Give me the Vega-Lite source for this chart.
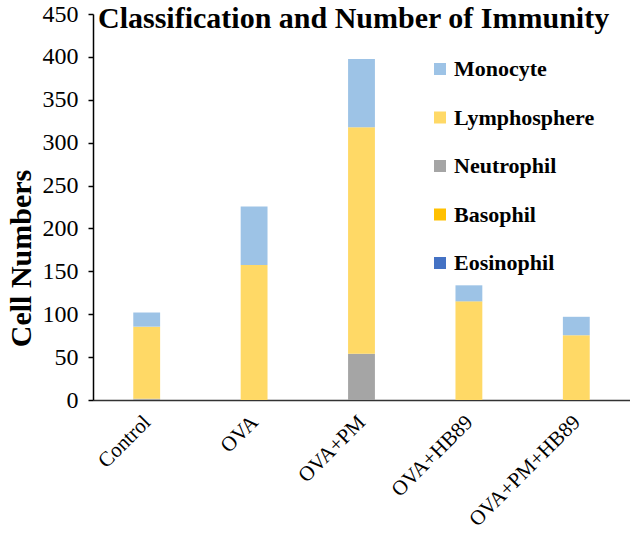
{
  "$schema": "https://vega.github.io/schema/vega-lite/v6.json",
  "width": 537,
  "height": 386,
  "autosize": "none",
  "padding": {"left": 93, "top": 14, "right": 0, "bottom": 134},
  "background": "white",
  "title": {
    "text": "Classification and Number of Immunity",
    "font": "Liberation Serif",
    "fontSize": 30,
    "fontWeight": "bold",
    "color": "black",
    "anchor": "start",
    "frame": "group",
    "dx": 5,
    "baseline": "top",
    "offset": -32
  },
  "data": {
    "values": [
      {"group": "Control", "cell": "Eosinophil", "count": 0},
      {"group": "Control", "cell": "Basophil", "count": 0},
      {"group": "Control", "cell": "Neutrophil", "count": 1.5},
      {"group": "Control", "cell": "Lymphosphere", "count": 84},
      {"group": "Control", "cell": "Monocyte", "count": 16.5},
      {"group": "OVA", "cell": "Eosinophil", "count": 0},
      {"group": "OVA", "cell": "Basophil", "count": 0},
      {"group": "OVA", "cell": "Neutrophil", "count": 0},
      {"group": "OVA", "cell": "Lymphosphere", "count": 157.5},
      {"group": "OVA", "cell": "Monocyte", "count": 68},
      {"group": "OVA+PM", "cell": "Eosinophil", "count": 0},
      {"group": "OVA+PM", "cell": "Basophil", "count": 0},
      {"group": "OVA+PM", "cell": "Neutrophil", "count": 54},
      {"group": "OVA+PM", "cell": "Lymphosphere", "count": 264},
      {"group": "OVA+PM", "cell": "Monocyte", "count": 79.5},
      {"group": "OVA+HB89", "cell": "Eosinophil", "count": 0},
      {"group": "OVA+HB89", "cell": "Basophil", "count": 0},
      {"group": "OVA+HB89", "cell": "Neutrophil", "count": 0},
      {"group": "OVA+HB89", "cell": "Lymphosphere", "count": 115},
      {"group": "OVA+HB89", "cell": "Monocyte", "count": 18.7},
      {"group": "OVA+PM+HB89", "cell": "Eosinophil", "count": 0},
      {"group": "OVA+PM+HB89", "cell": "Basophil", "count": 0},
      {"group": "OVA+PM+HB89", "cell": "Neutrophil", "count": 0},
      {"group": "OVA+PM+HB89", "cell": "Lymphosphere", "count": 75.5},
      {"group": "OVA+PM+HB89", "cell": "Monocyte", "count": 21.5}
    ]
  },
  "transform": [
    {"calculate": "indexof(['Eosinophil','Basophil','Neutrophil','Lymphosphere','Monocyte'], datum.cell)", "as": "stackRank"}
  ],
  "mark": {"type": "bar"},
  "encoding": {
    "x": {
      "field": "group",
      "type": "nominal",
      "sort": null,
      "scale": {"paddingInner": 0.75, "paddingOuter": 0.375},
      "axis": {
        "title": null,
        "labelAngle": -45,
        "labelFont": "Liberation Serif",
        "labelFontSize": 21,
        "labelColor": "black",
        "labelPadding": 11,
        "labelOffset": -7,
        "ticks": false,
        "domainColor": "#333333",
        "domainWidth": 1.5,
        "grid": false
      }
    },
    "y": {
      "field": "count",
      "type": "quantitative",
      "stack": "zero",
      "scale": {"domain": [0, 450], "nice": false},
      "axis": {
        "values": [0, 50, 100, 150, 200, 250, 300, 350, 400, 450],
        "title": "Cell Numbers",
        "titleFont": "Liberation Serif",
        "titleFontSize": 30,
        "titleFontWeight": "bold",
        "titleColor": "black",
        "titleX": -63,
        "titleY": 244,
        "titleAlign": "center",
        "titleBaseline": "alphabetic",
        "titleAngle": -90,
        "labelFont": "Liberation Serif",
        "labelFontSize": 24,
        "labelColor": "black",
        "labelPadding": 10,
        "tickSize": 5,
        "tickColor": "black",
        "tickWidth": 1.5,
        "domainColor": "black",
        "domainWidth": 1.5,
        "grid": false
      }
    },
    "color": {
      "field": "cell",
      "type": "nominal",
      "scale": {
        "domain": ["Monocyte", "Lymphosphere", "Neutrophil", "Basophil", "Eosinophil"],
        "range": ["#9DC3E6", "#FFD966", "#A5A5A5", "#FFC000", "#4472C4"]
      },
      "legend": {
        "title": null,
        "orient": "none",
        "legendX": 336,
        "legendY": 44,
        "padding": 0,
        "symbolType": "square",
        "symbolSize": 144,
        "symbolStrokeWidth": 0,
        "labelFont": "Liberation Serif",
        "labelFontSize": 22,
        "labelFontWeight": "bold",
        "labelColor": "black",
        "labelOffset": 3,
        "rowPadding": 26.5
      }
    },
    "order": {"field": "stackRank", "type": "quantitative", "sort": "ascending"}
  },
  "config": {
    "view": {"stroke": null}
  }
}
